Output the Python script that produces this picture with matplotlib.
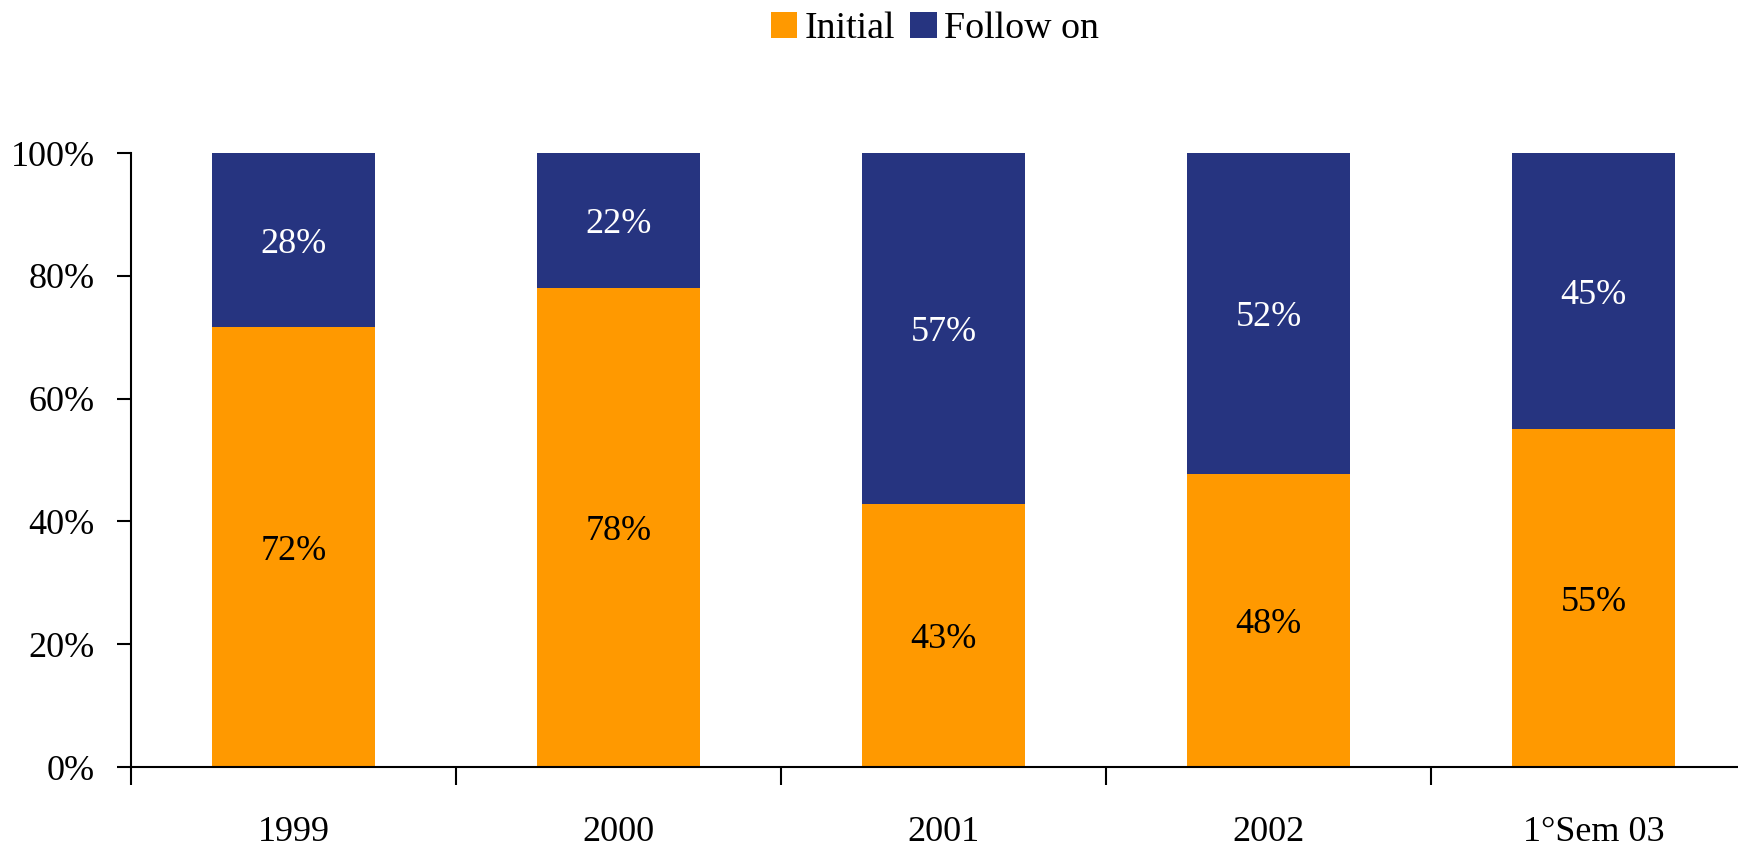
import matplotlib
matplotlib.use("Agg")
import matplotlib.pyplot as plt
import numpy as np
from matplotlib.patches import Patch

categories = ["1999", "2000", "2001", "2002", "1°Sem 03"]
initial = [71.6, 78.0, 42.9, 47.8, 55.0]
follow_on = [28.4, 22.0, 57.1, 52.2, 45.0]
y_ticks = [0, 20, 40, 60, 80, 100]

orange = "#FF9900"
navy = "#263480"

plt.rcParams['font.family'] = ['Liberation Serif', 'DejaVu Serif']
FS = 26

fig = plt.figure(figsize=(17.38, 8.46), dpi=100)
W, H = 1738, 846
left, right, bottom, top = 131, 1756, 846 - 767, 846 - 153
ax = fig.add_axes([left / W, bottom / H, (right - left) / W, (top - bottom) / H])

x = np.arange(len(categories))
ax.bar(x, initial, width=0.5, color=orange, zorder=2)
ax.bar(x, follow_on, width=0.5, bottom=initial, color=navy, zorder=2)

for xi, a, b in zip(x, initial, follow_on):
    ax.text(xi, a / 2, f"{a:.0f}%", ha="center", va="center_baseline", fontsize=FS, color="black")
    ax.text(xi, a + b / 2, f"{b:.0f}%", ha="center", va="center_baseline", fontsize=FS, color="white")

ax.set_xlim(-0.5, len(categories) - 0.5)
ax.set_ylim(0, 100)
ax.set_yticks(y_ticks)
ax.set_yticklabels([f"{v}%" for v in y_ticks], fontsize=FS)
ax.set_xticks(x)
ax.set_xticklabels(categories, fontsize=FS)
ax.tick_params(axis="x", which="major", length=0, pad=35)
ax.set_xticks(np.arange(len(categories) + 1) - 0.5, minor=True)
ax.tick_params(axis="x", which="minor", length=13, width=1.5, direction="out")
ax.tick_params(axis="y", length=10, width=1.5, direction="out", pad=16)

for s in ["top", "right"]:
    ax.spines[s].set_visible(False)
ax.spines["left"].set_linewidth(1.5)
ax.spines["bottom"].set_linewidth(1.5)

handles = [Patch(facecolor=orange, label="Initial"), Patch(facecolor=navy, label="Follow on")]
fig.legend(handles=handles, loc="center", bbox_to_anchor=(935 / W, 1 - 29 / H),
           ncol=2, frameon=False, fontsize=27.3, handlelength=0.7, handleheight=0.7,
           handletextpad=0.2, columnspacing=0.4, borderpad=0.1)

fig.savefig("out.png", dpi=100)
